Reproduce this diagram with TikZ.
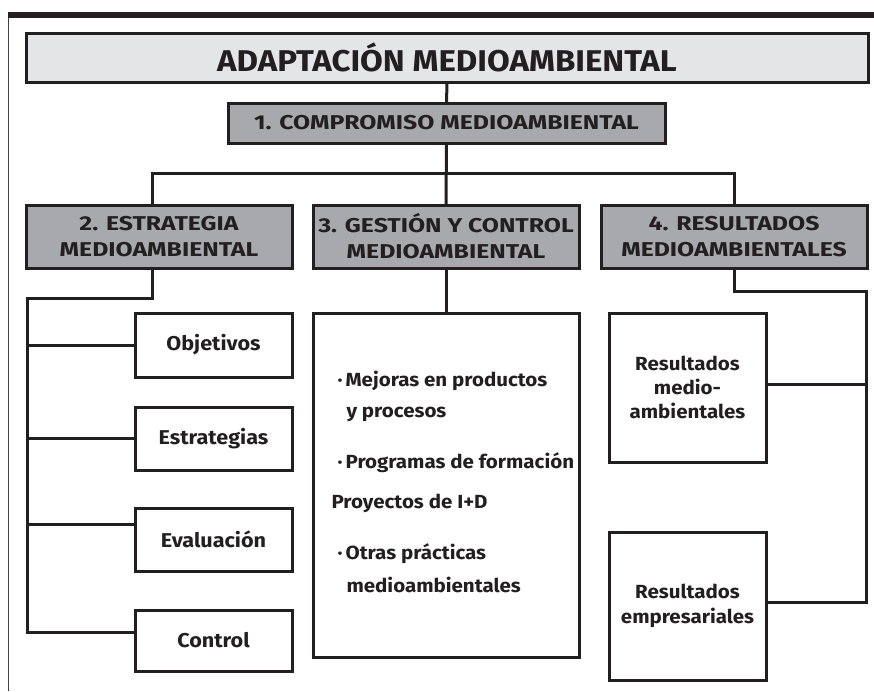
\documentclass[tikz,border=0pt]{standalone}
\usepackage{fontspec}
\setmainfont{Fira Sans}
\newfontfamily\titlefont{Fira Sans}[FakeStretch=1.10]
\newfontfamily\capsfont{Fira Sans}[FakeStretch=1.24]
\newfontfamily\boxfont{Fira Sans}[FakeStretch=1.08]
\definecolor{ink}{HTML}{231F20}
\definecolor{palegray}{HTML}{E4E5E6}
\definecolor{midgray}{HTML}{A7A9AC}

\begin{document}
\begin{tikzpicture}[x=1pt,y=-1pt,color=ink,line width=3pt,line cap=rect,
  hdr/.style={draw,fill=midgray,inner sep=0pt,align=center,minimum width=266,minimum height=63,font=\capsfont\bfseries\fontsize{20}{26}\selectfont},
  item/.style={draw,fill=white,inner sep=0pt,align=center,minimum width=157,font=\boxfont\bfseries\fontsize{20}{25}\selectfont},
  bullettext/.style={anchor=base west,inner sep=0pt,font=\boxfont\bfseries\fontsize{19}{25}\selectfont}]
\useasboundingbox (0,0) rectangle (874,691);
\draw[line width=6pt,line cap=butt] (8,15) -- (874,15);
\draw[line width=1.4pt,line cap=butt,ink!85] (8.7,18) -- (8.7,691);
\node[draw,fill=palegray,minimum width=842,minimum height=49,inner sep=0pt,font=\titlefont\bfseries\fontsize{30}{30}\selectfont] (adapt) at (447,57.5) {ADAPTACIÓN MEDIOAMBIENTAL};
\node[hdr,minimum width=437,minimum height=40] (comp) at (446.5,123) {1. COMPROMISO MEDIOAMBIENTAL};
\node[hdr] (estr) at (159,236.5) {2. ESTRATEGIA\\MEDIOAMBIENTAL};
\node[hdr] (gest) at (446,236.5) {3. GESTIÓN Y CONTROL\\MEDIOAMBIENTAL};
\node[hdr] (resu) at (734,236.5) {4. RESULTADOS\\MEDIOAMBIENTALES};
\node[item,minimum height=64] (obj) at (213.5,345) {Objetivos};
\node[item,minimum height=63] (estg) at (213.5,438.5) {Estrategias};
\node[item,minimum height=63] (eval) at (213.5,539.5) {Evaluación};
\node[item,minimum height=61] (ctrl) at (213.5,640.5) {Control};
\node[item,minimum width=266,minimum height=344] (prac) at (446,485) {};
\node[bullettext] (mej) at (336,386) {·\,Mejoras en productos};
\node[bullettext] (proc) at (345,417) {y procesos};
\node[bullettext] (prog) at (336,468) {·\,Programas de formación};
\node[bullettext] (proy) at (330,508) {Proyectos de I+D};
\node[bullettext] (otr) at (336,559) {·\,Otras prácticas};
\node[bullettext] (med) at (345,592) {medioambientales};
\node[item,minimum height=149,font=\boxfont\bfseries\fontsize{19}{24}\selectfont] (rma) at (687.5,387.5) {Resultados\\medio-\\ambientales};
\node[item,minimum height=148,font=\boxfont\bfseries\fontsize{19}{25}\selectfont] (remp) at (687.5,606) {Resultados\\empresariales};
% connectors
\coordinate (busL) at (152,173);
\coordinate (busR) at (734,173);
\coordinate (spineL) at (27,298);
\coordinate (spineR) at (866,291);
\coordinate (evalin) at ([yshift=15.5pt]eval.west);
\coordinate (ctrlin) at ([yshift=8.5pt]ctrl.west);
\coordinate (rmain) at ([yshift=3.5pt]rma.east);
\coordinate (rempin) at ([yshift=4pt]remp.east);
\draw (adapt.south) -- (comp.north);
\draw (comp.south) -- (gest.north);
\draw (estr.north -| busL) |- (busR) -- (resu.north);
\draw (estr.south -| busL) |- (spineL) |- (ctrlin);
\draw (spineL |- obj.west) -- (obj.west);
\draw (spineL |- estg.west) -- (estg.west);
\draw (spineL |- evalin) -- (evalin);
\draw (gest.south) -- (prac.north);
\draw (resu.south) |- (spineR) |- (rempin);
\draw (spineR |- rmain) -- (rmain);
\end{tikzpicture}
\end{document}
